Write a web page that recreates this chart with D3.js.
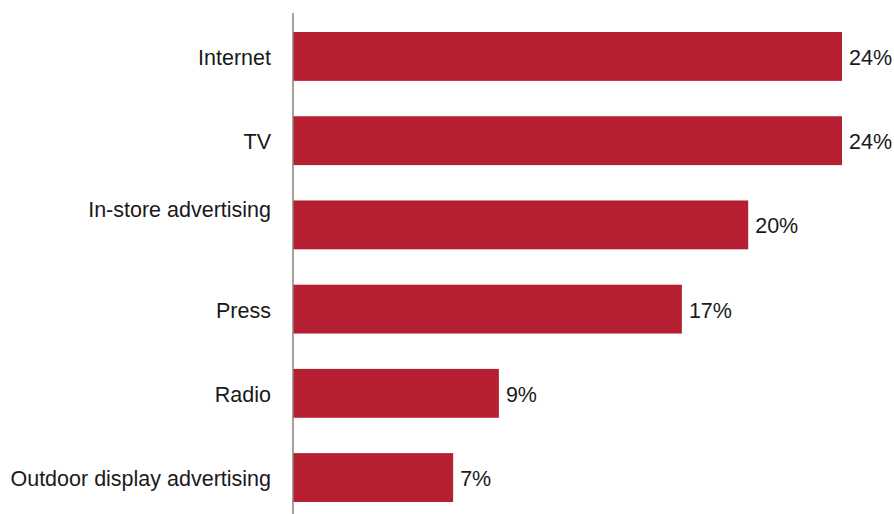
<!DOCTYPE html>
<html>
<head>
<meta charset="utf-8">
<script src="https://cdn.jsdelivr.net/npm/d3@7"></script>
<style>
  html, body { margin: 0; padding: 0; background: #ffffff; }
  svg { display: block; }
  text { font-family: "Liberation Sans", Arial, Helvetica, sans-serif; }
</style>
</head>
<body>
<svg id="chart" width="894" height="514"></svg>
<script>
const categories = ["Internet", "TV", "In-store advertising", "Press", "Radio", "Outdoor display advertising"];
const values = [24, 24, 19.9, 17, 9, 7];
const valueLabels = ["24%", "24%", "20%", "17%", "9%", "7%"];

const W = 894, H = 514;
const FS = 21.5;
const svg = d3.select("#chart");

const x = d3.scaleLinear().domain([0, 24]).range([293, 842]);
const y = d3.scaleBand().domain(categories).range([14, 520]).paddingInner(0.42).paddingOuter(0.214);

const data = categories.map((c, i) => ({ c, v: values[i], label: valueLabels[i] }));

// bars
svg.append("g").selectAll("rect").data(data).join("rect")
  .attr("x", x(0))
  .attr("y", d => y(d.c))
  .attr("width", d => x(d.v) - x(0))
  .attr("height", y.bandwidth())
  .attr("fill", "#B61F32");

// value labels
svg.append("g").selectAll("text").data(data).join("text")
  .attr("x", d => x(d.v) + 7)
  .attr("y", d => y(d.c) + y.bandwidth() / 2)
  .attr("dy", "0.4em")
  .attr("font-size", FS)
  .attr("fill", "#1a1a1a")
  .text(d => d.label);

// category axis
const axis = d3.axisLeft(y).tickSize(0).tickPadding(22);
const gAxis = svg.append("g").attr("transform", `translate(${x(0)},0)`).call(axis);
gAxis.select(".domain").remove();
gAxis.selectAll("text")
  .attr("font-size", FS)
  .attr("font-family", "\"Liberation Sans\", Arial, Helvetica, sans-serif")
  .attr("fill", "#1a1a1a")
  .attr("dy", d => d === "In-store advertising" ? "-0.38em" : "0.4em");

// axis line
svg.append("line")
  .attr("x1", x(0)).attr("x2", x(0))
  .attr("y1", 13).attr("y2", H)
  .attr("stroke", "#8c8079")
  .attr("stroke-width", 1.5);
</script>
</body>
</html>
